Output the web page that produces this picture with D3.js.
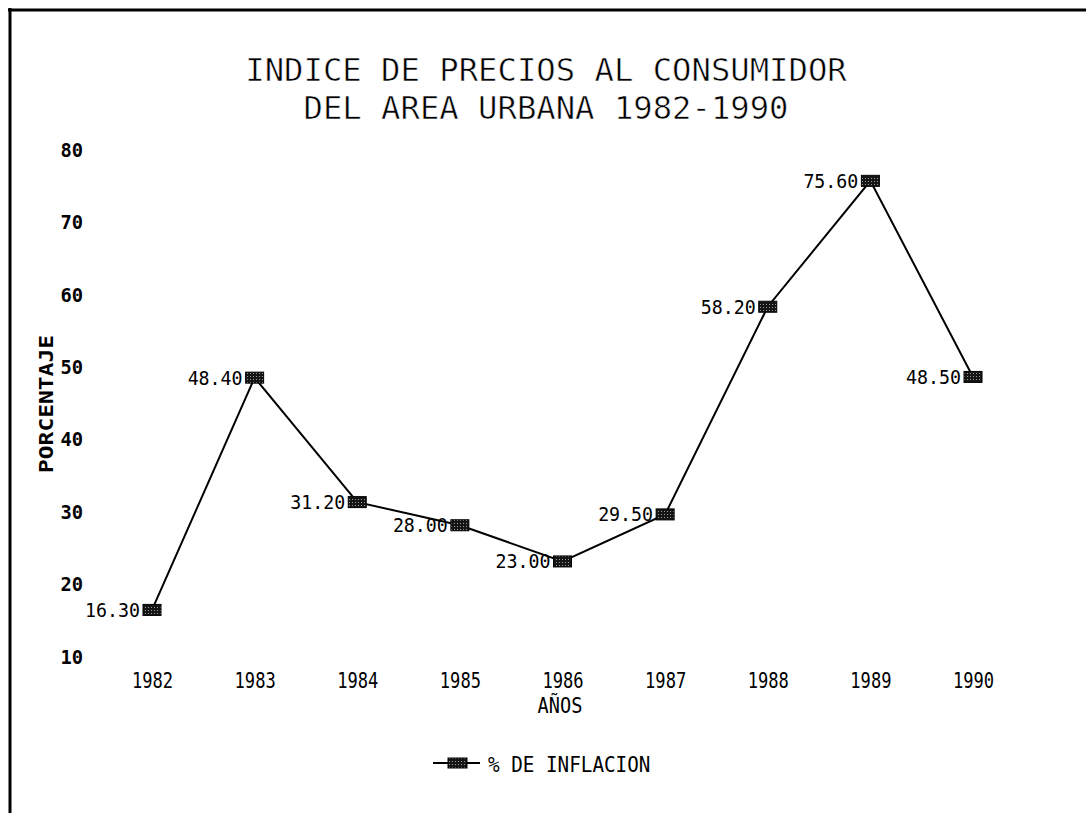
<!DOCTYPE html>
<html>
<head>
<meta charset="utf-8">
<script src="https://cdn.jsdelivr.net/npm/d3@7"></script>
<style>
  body { margin: 0; background: #fff; }
  svg { display: block; }
</style>
</head>
<body>
<div id="chart"></div>
<script>
var titleLines = ["INDICE DE PRECIOS AL CONSUMIDOR", "DEL AREA URBANA 1982-1990"];
var years = ["1982", "1983", "1984", "1985", "1986", "1987", "1988", "1989", "1990"];
var inflation = [16.30, 48.40, 31.20, 28.00, 23.00, 29.50, 58.20, 75.60, 48.50];
var yTicks = [10, 20, 30, 40, 50, 60, 70, 80];
var yTitle = "PORCENTAJE";
var xTitle = "AÑOS";
var seriesName = "% DE INFLACION";

var W = 1086, H = 813;
var mono = "'DejaVu Sans Mono', 'Liberation Mono', monospace";

var svg = d3.select("#chart").append("svg")
    .attr("width", W)
    .attr("height", H);

// dithered fill used by the markers
var pat = svg.append("defs").append("pattern")
    .attr("id", "dither")
    .attr("width", 3).attr("height", 3)
    .attr("patternUnits", "userSpaceOnUse");
pat.append("rect").attr("width", 3).attr("height", 3).attr("fill", "#151515");
pat.append("rect").attr("x", 1).attr("y", 1).attr("width", 1).attr("height", 1).attr("fill", "#9a9a9a");

// frame (only left and top edges show)
svg.append("line").attr("x1", 10).attr("y1", 8).attr("x2", 10).attr("y2", H)
    .style("stroke", "#000").style("stroke-width", 3);
svg.append("line").attr("x1", 8).attr("y1", 10).attr("x2", W).attr("y2", 10)
    .style("stroke", "#000").style("stroke-width", 3);

// squeeze monospace text to the plotter font width
function fit(sel, perChar) {
    sel.attr("lengthAdjust", "spacingAndGlyphs")
        .attr("textLength", function () { return this.textContent.length * perChar; });
}

var x = d3.scalePoint().domain(years).range([152, 973]);
var y = d3.scaleLinear().domain([10, 80]).range([655.5, 149]);

// title
svg.append("g").selectAll("text")
    .data(titleLines)
    .enter()
    .append("text")
    .attr("x", 546)
    .attr("y", function (d, i) { return 81 + i * 37.5; })
    .attr("text-anchor", "middle")
    .style("font-family", mono)
    .style("font-size", "32px")
    .style("fill", "#000")
    .style("stroke", "#fff")
    .style("stroke-width", 0.6)
    .text(function (d) { return d; })
    .call(fit, 19.4);

// y axis
var yAxis = svg.append("g")
    .attr("transform", "translate(90,0)")
    .call(d3.axisLeft(y).tickValues(yTicks).tickSize(0).tickPadding(7));
yAxis.select(".domain").remove();
yAxis.selectAll("text")
    .attr("dy", null)
    .attr("y", 7.5)
    .style("font-family", mono)
    .style("font-size", "20px")
    .style("font-weight", "bold")
    .style("fill", "#000")
    .call(fit, 11.3);

// x axis
var xAxis = svg.append("g")
    .attr("transform", "translate(0,688)")
    .call(d3.axisBottom(x).tickSize(0).tickPadding(0));
xAxis.select(".domain").remove();
xAxis.selectAll("text")
    .attr("dy", null)
    .attr("y", 0)
    .style("font-family", mono)
    .style("font-size", "21px")
    .style("fill", "#000")
    .call(fit, 10.3);

// axis titles
svg.append("text")
    .attr("x", 560).attr("y", 713)
    .attr("text-anchor", "middle")
    .style("font-family", mono)
    .style("font-size", "21px")
    .style("fill", "#000")
    .text(xTitle)
    .call(fit, 11.2);

svg.append("text")
    .attr("transform", "translate(53,404) rotate(-90)")
    .attr("text-anchor", "middle")
    .style("font-family", mono)
    .style("font-size", "20px")
    .style("font-weight", "bold")
    .style("fill", "#000")
    .text(yTitle)
    .call(fit, 13.8);

// series
var data = years.map(function (d, i) { return { year: d, value: inflation[i] }; });

svg.append("path")
    .datum(data)
    .attr("d", d3.line()
        .x(function (d) { return x(d.year); })
        .y(function (d) { return y(d.value); }))
    .style("fill", "none")
    .style("stroke", "#000")
    .style("stroke-width", 2);

svg.append("g").selectAll("rect")
    .data(data)
    .enter()
    .append("rect")
    .attr("x", function (d) { return x(d.year) - 9; })
    .attr("y", function (d) { return y(d.value) - 5.5; })
    .attr("width", 18)
    .attr("height", 11)
    .style("fill", "url(#dither)")
    .style("stroke", "#000")
    .style("stroke-width", 1);

svg.append("g").selectAll("text")
    .data(data)
    .enter()
    .append("text")
    .attr("x", function (d) { return x(d.year) - 12; })
    .attr("y", function (d) { return y(d.value) + 7; })
    .attr("text-anchor", "end")
    .style("font-family", mono)
    .style("font-size", "19px")
    .style("fill", "#000")
    .text(function (d) { return d.value.toFixed(2); })
    .call(fit, 11);

// legend
var lg = svg.append("g").attr("transform", "translate(433,763)");
lg.append("line").attr("x1", 0).attr("x2", 47).attr("y1", 0).attr("y2", 0)
    .style("stroke", "#000").style("stroke-width", 2);
lg.append("rect").attr("x", 15).attr("y", -5).attr("width", 19).attr("height", 10)
    .style("fill", "url(#dither)").style("stroke", "#000").style("stroke-width", 1);
lg.append("text")
    .attr("x", 55).attr("y", 9)
    .style("font-family", mono)
    .style("font-size", "21px")
    .style("fill", "#000")
    .text(seriesName)
    .call(fit, 11.6);
</script>
</body>
</html>
